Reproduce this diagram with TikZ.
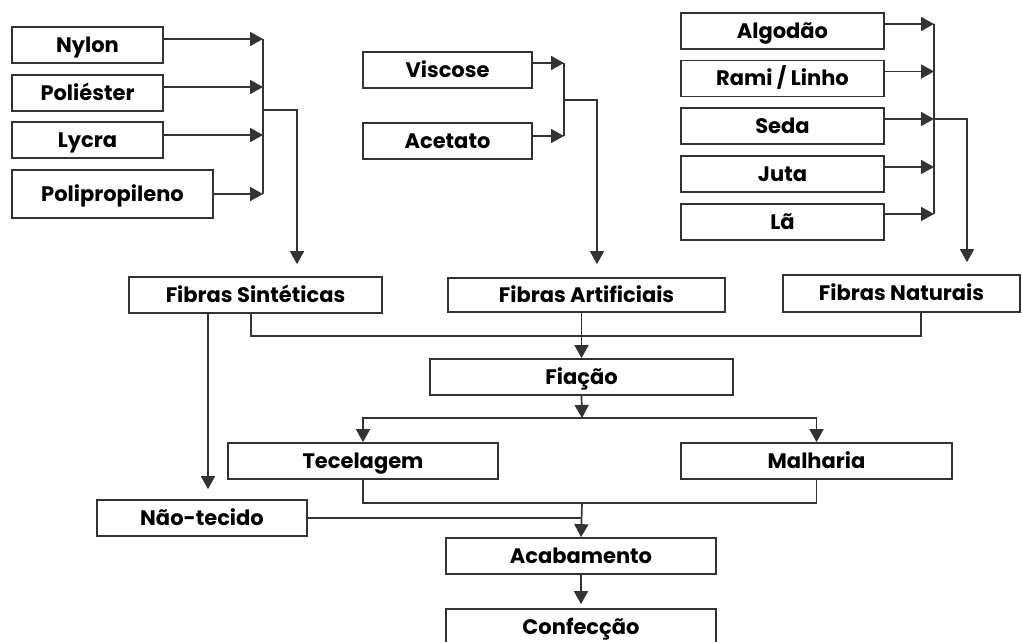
\documentclass[tikz,border=0pt]{standalone}
\usepackage{fontspec}
\setmainfont{Poppins}
\usetikzlibrary{arrows.meta}

\begin{document}
\begin{tikzpicture}[
  x=1pt, y=-1pt,
  every node/.style={font=\bfseries\fontsize{21}{24}\selectfont},
  box/.style={draw=black!80, line width=1.7pt, minimum height=36pt,
              inner sep=0pt, text height=17.5pt, text depth=3pt, fill=white},
  link/.style={draw=black!80, line width=1.7pt},
  feed/.style={link, -{Triangle[length=13pt,width=14pt]}}
]
  \useasboundingbox (0,0) rectangle (1022,642);
  \clip (0,0) rectangle (1022,642);

  % sinteticas
  \node[box, minimum width=151pt] (nylon)  at (87.5,45)  {Nylon};
  \node[box, minimum width=151pt] (polies) at (87.5,93)  {Poliéster};
  \node[box, minimum width=151pt] (lycra)  at (87.5,140) {Lycra};
  \node[box, minimum width=201pt, minimum height=48pt] (polip) at (112.5,194) {Polipropileno};

  % artificiais
  \node[box, minimum width=169pt] (visc) at (447.5,70)  {Viscose};
  \node[box, minimum width=169pt] (acet) at (447.5,141) {Acetato};

  % naturais
  \node[box, minimum width=203pt] (alg)  at (782.5,31)   {Algodão};
  \node[box, minimum width=203pt] (rami) at (782.5,78.5) {Rami / Linho};
  \node[box, minimum width=203pt] (seda) at (782.5,126)  {Seda};
  \node[box, minimum width=203pt] (juta) at (782.5,174)  {Juta};
  \node[box, minimum width=203pt] (la)   at (782.5,222)  {Lã};

  \node[box, minimum width=253pt] (fsint) at (255.5,295) {Fibras Sintéticas};
  \node[box, minimum width=277pt, minimum height=34pt] (fart) at (586.5,295) {Fibras Artificiais};
  \node[box, minimum width=237pt, minimum height=37pt] (fnat) at (901.5,293.5) {Fibras Naturais};

  \node[box, minimum width=303pt] (fiacao) at (581.5,377) {Fiação};
  \node[box, minimum width=270pt] (tecel)  at (363,461)   {Tecelagem};
  \node[box, minimum width=271pt] (malha)  at (816.5,461) {Malharia};
  \node[box, minimum width=210pt] (naotec) at (202,518)   {Não-tecido};
  \node[box, minimum width=270pt] (acab)   at (581,556)   {Acabamento};
  \node[box, minimum width=270pt] (confec) at (581,627)   {Confecção};

  \coordinate (sinBus) at (263,110);
  \coordinate (artBus) at (564,100);
  \coordinate (natBus) at (934,119);
  \coordinate (coletor) at (582,336);
  \coordinate (split)   at (582,418);
  \coordinate (merge)   at (582,503);

  % feeds into the buses
  \draw[feed] ([yshift=6pt]nylon.east)  -- ([yshift=6pt]nylon.east -| sinBus);
  \draw[feed] ([yshift=6pt]polies.east) -- ([yshift=6pt]polies.east -| sinBus);
  \draw[feed] ([yshift=5pt]lycra.east)  -- ([yshift=5pt]lycra.east -| sinBus);
  \draw[feed] (polip.east) -- (polip.east -| sinBus);
  \draw[link] ([yshift=6pt]nylon.east -| sinBus) -- (polip.east -| sinBus);
  \draw[feed, shorten >=12pt] (sinBus) -| ([xshift=41.5pt]fsint.north);

  \draw[feed] ([yshift=7pt]visc.east) -- ([yshift=7pt]visc.east -| artBus);
  \draw[feed] ([yshift=5pt]acet.east) -- ([yshift=5pt]acet.east -| artBus);
  \draw[link] ([yshift=7pt]visc.east -| artBus) -- ([yshift=5pt]acet.east -| artBus);
  \draw[feed, shorten >=13pt] (artBus) -| ([xshift=10.5pt]fart.north);

  \draw[feed] ([yshift=7pt]alg.east)  -- ([yshift=7pt]alg.east -| natBus);
  \draw[feed] ([yshift=7pt]rami.east) -- ([yshift=7pt]rami.east -| natBus);
  \draw[feed] ([yshift=7pt]seda.east) -- ([yshift=7pt]seda.east -| natBus);
  \draw[feed] ([yshift=7pt]juta.east) -- ([yshift=7pt]juta.east -| natBus);
  \draw[feed] ([yshift=8pt]la.east)   -- ([yshift=8pt]la.east -| natBus);
  \draw[link] ([yshift=7pt]alg.east -| natBus) -- ([yshift=8pt]la.east -| natBus);
  \draw[feed, shorten >=12pt] (natBus) -| ([xshift=65.5pt]fnat.north);

  % fibras -> fiacao
  \draw[link] ([xshift=-4.5pt]fsint.south) |- (coletor) -| ([xshift=19.5pt]fnat.south);
  \draw[feed] (fart.south -| fiacao.north) -- (fiacao.north);

  \draw[feed] (fiacao.south) -- (split);
  \draw[feed] (split) -| (tecel.north);
  \draw[feed] (split) -| (malha.north);

  \draw[feed, shorten >=10pt] ([xshift=-47.5pt]fsint.south) -- ([xshift=-47.5pt]fsint.south |- naotec.north);

  \draw[link] (tecel.south) |- (merge) -| (malha.south);
  \draw[link] (naotec.east) -- (naotec.east -| merge);
  \draw[feed] (merge) -- (acab.north);
  \draw[feed, shorten >=4pt] (acab.south) -- (confec.north);
\end{tikzpicture}
\end{document}
